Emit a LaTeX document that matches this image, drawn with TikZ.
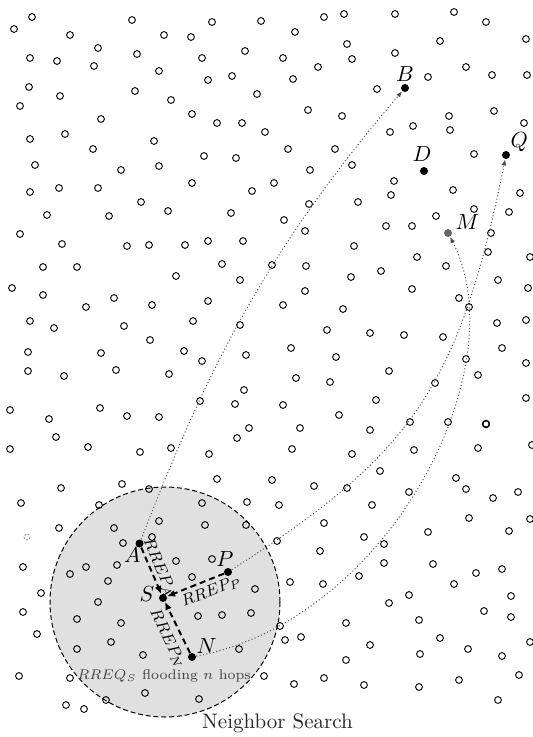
\documentclass[tikz,border=0pt]{standalone}
\usetikzlibrary{positioning, arrows.meta}

\begin{document}
\begin{tikzpicture}[
    x=0.5pt, y=-0.5pt,
    site/.style={
        circle,
        draw,
        inner sep=0pt,
        minimum size=3.4pt,
        line width=0.45pt
    },
    peer/.style={
        circle,
        fill,
        inner sep=0pt,
        minimum size=4pt
    },
    tag/.style={inner sep=1pt, font=\fontsize{11}{13}\selectfont},
    route/.style={
        black!70,
        line width=0.5pt,
        dash pattern=on 0.5pt off 1.2pt,
        -{Latex[length=3pt, width=2.4pt]}
    },
    reply/.style={
        line width=1pt,
        dash pattern=on 3pt off 2pt,
        -{Latex[length=4pt, width=3.5pt]}
    },
    replytag/.style={font=\footnotesize, inner sep=0.5pt, sloped}
]
    \useasboundingbox (0,0) rectangle (533,737);

    % --- search zone around S ---
    \node[circle, draw, fill=black!12, line width=0.5pt,
          dash pattern=on 2.5pt off 1.4pt, minimum size=115pt] (zone) at (165,602) {};

    % --- sensor field ---
    \foreach \p [count=\i] in {
        (32,17),(14,29),(132,20),(70,35),(164,35),(98,48),(30,58),(57,61),(137,54),
        (94,66),(159,71),(29,87),(60,96),(135,91),(20,106),(171,100),(101,119),(30,139),
        (65,134),(154,141),(93,149),(35,165),(159,166),(121,170),(30,192),(59,188),
        (98,188),(141,202),(168,211),(47,215),(109,216),(20,234),(62,244),(127,246),(149,245),
        (212,22),(261,21),(324,17),(344,14),(191,37),(295,32),(347,44),(202,58),(245,51),
        (283,58),(352,59),(318,67),(208,80),(232,76),(293,79),(257,94),(192,114),(308,110),
        (342,116),(217,123),(242,123),(265,132),(204,156),(236,158),(288,149),(335,149),
        (310,170),(352,165),(192,183),(252,191),(274,183),(231,213),(309,204),(284,220),
        (305,231),(185,245),(208,241),(243,241),(354,246),
        (395,14),(454,12),(486,22),(440,41),(526,39),(395,53),(466,67),(428,77),(492,75),
        (527,75),(377,89),(494,111),(449,116),(413,126),(450,130),(390,132),(524,123),
        (474,154),(394,181),(391,195),(453,190),(520,193),(358,202),(474,209),(509,212),
        (436,216),(386,226),(412,226),(491,233),
        (43,267),(77,267),(176,276),(12,288),(43,295),(86,307),(114,298),(152,305),(30,321),
        (54,328),(124,326),(150,340),(28,352),(101,353),(28,371),(64,376),(116,370),(169,374),
        (10,410),(49,419),(100,408),(127,416),(159,417),(56,437),(10,449),(88,447),(140,452),
        (171,448),(61,488),(122,484),(149,489),
        (222,264),(272,265),(306,266),(351,277),(240,280),(305,291),(208,301),(283,305),
        (343,309),(193,321),(240,325),(327,330),(184,351),(246,355),(291,348),(202,361),
        (336,357),(296,378),(330,382),(244,390),(200,401),(235,404),(283,405),(339,415),
        (249,428),(300,428),(237,438),(209,454),(292,449),(352,454),(217,479),(272,480),
        (314,486),(347,488),
        (417,257),(488,252),(530,257),(381,271),(446,266),(412,289),(498,280),(528,288),
        (459,298),(469,307),(370,333),(404,335),(443,337),(497,323),(526,320),(502,348),
        (466,359),(526,363),(389,371),(478,375),(435,383),(376,400),(526,398),(410,422),
        (448,422),(370,430),(414,450),(478,448),(532,445),(380,471),(456,478),(466,489),
        (409,492),(518,492),
        (21,503),(99,505),(59,528),(114,528),(159,521),(123,543),(152,537),(23,567),(86,567),
        (117,565),(70,574),(108,581),(176,561),(41,593),(98,602),(23,612),(77,619),(121,623),
        (37,634),(111,642),(77,649),(143,655),(19,676),(70,678),(145,693),(106,700),(66,705),
        (84,709),
        (202,503),(247,502),(279,505),(205,525),(246,525),(324,523),(277,541),(320,551),
        (212,559),(192,577),(255,589),(290,582),(323,584),(198,616),(222,615),(251,613),
        (280,626),(285,640),(301,637),(346,623),(239,649),(264,676),(294,684),(324,678),
        (346,660),(199,699),
        (372,505),(493,498),(469,518),(530,519),(364,537),(384,544),(428,532),(509,531),
        (384,563),(433,564),(359,576),(476,573),(502,569),(454,584),(409,595),(389,603),
        (511,596),(484,611),(419,620),(511,617),(370,645),(440,638),(468,649),(420,654),
        (502,656),(530,642),(519,675),(364,685),(419,687),(459,680),(498,700)}
        \node[site] (s\i) at \p {};
    \node[site, line width=0.8pt] (busy) at (486,424) {};
    \draw[black!40, line width=0.45pt, dash pattern=on 1pt off 0.8pt] (27,537) circle[radius=3];

    % --- named nodes ---
    \node[peer] (S) at (163,598) {};
    \node[peer] (A) at (139.5,543.5) {};
    \node[peer] (P) at (228,572) {};
    \node[peer] (N) at (192,657) {};
    \node[peer] (B) at (405,88) {};
    \node[peer] (D) at (424,171) {};
    \node[peer] (Q) at (506,155) {};
    \node[peer, fill=black!60] (M) at (448,233) {};

    \node[tag, left=1pt of S, yshift=2pt] (Slbl) {$S$};
    \node[tag, below=-1.5pt of A, xshift=-3.6pt] (Albl) {$A$};
    \node[tag, above=-0.5pt of P, xshift=-1.5pt] (Plbl) {$P$};
    \node[tag, above right=-1pt and -0.5pt of N] (Nlbl) {$N$};
    \node[tag, above=0pt of B] (Blbl) {$B$};
    \node[tag, above=1.5pt of D, xshift=-1pt] (Dlbl) {$D$};
    \node[tag, above right=-1pt and -0.5pt of Q] (Qlbl) {$Q$};
    \node[tag, above right=-1pt and 1pt of M] (Mlbl) {$M$};

    % --- routes found by the search ---
    \draw[route] (A) .. controls (203,380) and (261,256) .. (B);
    \draw[route] (P) .. controls (414,454) and (460,383) .. (Q);
    \draw[route] (N) .. controls (389,620) and (518,368) .. (M);

    % --- replies back to S ---
    \draw[reply] (A) -- node[replytag, above] {$RREP_A$} (S);
    \draw[reply] (P) -- node[replytag, below=1.5pt, pos=0.3] {$RREP_P$} (S);
    \draw[reply] (N) -- node[replytag, below=2.5pt, pos=0.4] {$RREP_N$} (S);

    \node[font=\fontsize{7}{8}\selectfont, text=black!75] (flood) at (164,676) {$RREQ_S$ flooding $n$ hops};
    \node[font=\fontsize{10.5}{12}\selectfont, text=black!85] (caption) at (277.5,723) {Neighbor Search};
\end{tikzpicture}
\end{document}
